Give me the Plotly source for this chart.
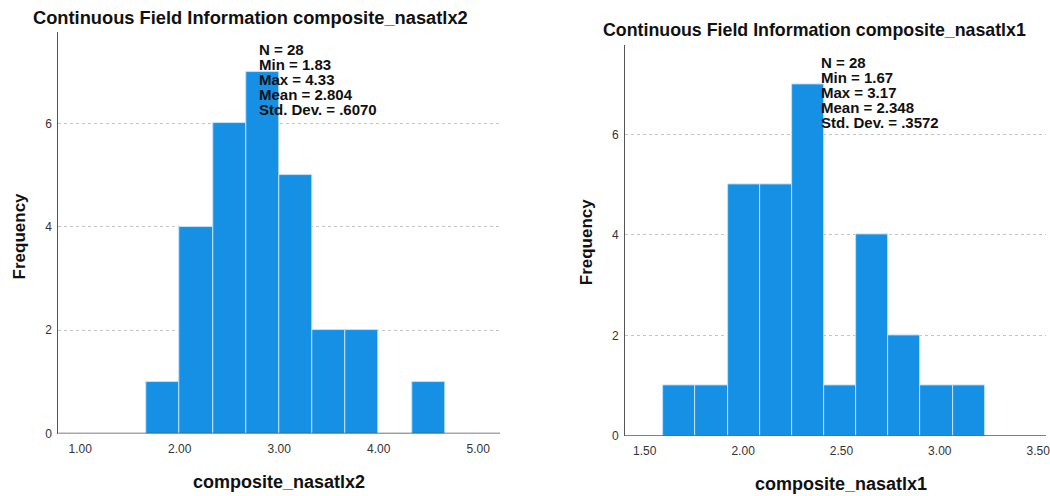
import plotly.graph_objects as go

# ---------------- data ----------------
left_var = "composite_nasatlx2"
left_bin_start = 1.6667
left_bin_width = 0.3333
left_counts = [1, 4, 6, 7, 5, 2, 2, 0, 1]
left_stats = ["N = 28", "Min = 1.83", "Max = 4.33", "Mean = 2.804", "Std. Dev. = .6070"]
left_xticks = [1.0, 2.0, 3.0, 4.0, 5.0]
left_xticklabels = ["1.00", "2.00", "3.00", "4.00", "5.00"]

right_var = "composite_nasatlx1"
right_bin_start = 1.595
right_bin_width = 0.1634
right_counts = [1, 1, 5, 5, 7, 1, 4, 2, 1, 1]
right_stats = ["N = 28", "Min = 1.67", "Max = 3.17", "Mean = 2.348", "Std. Dev. = .3572"]
right_xticks = [1.5, 2.0, 2.5, 3.0, 3.5]
right_xticklabels = ["1.50", "2.00", "2.50", "3.00", "3.50"]

y_ticks = [0, 2, 4, 6]

# ---------------- styling ----------------
W, H = 1050, 496
H_MAP = 488  # vertical mapping used for layout fractions
BAR = "#1590e4"
EDGE = "#bfe2f8"
FONT = "Liberation Sans, Arial, sans-serif"
TXT = "#111111"
TICK = "#333333"


def py(px):
    return 1 - px / H_MAP


def px_x(px):
    return px / W


left_edges = [left_bin_start + i * left_bin_width for i in range(len(left_counts))]
right_edges = [right_bin_start + i * right_bin_width for i in range(len(right_counts))]

fig = go.Figure()
fig.add_trace(go.Bar(x=left_edges, y=left_counts, width=left_bin_width, offset=0,
                     marker=dict(color=BAR, line=dict(color=EDGE, width=1)),
                     xaxis="x", yaxis="y", showlegend=False))
fig.add_trace(go.Bar(x=right_edges, y=right_counts, width=right_bin_width, offset=0,
                     marker=dict(color=BAR, line=dict(color=EDGE, width=1)),
                     xaxis="x2", yaxis="y2", showlegend=False))

L_left, L_right, L_top, L_bot = 58.5, 502, 32, 432.7
R_left, R_right, R_top, R_bot = 627.5, 1050, 45.3, 435

common_x = dict(showgrid=False, zeroline=False, showline=False, ticks="",
                tickfont=dict(family=FONT, size=12, color=TICK), ticklabelstandoff=6,
                ticklabeloverflow="allow", fixedrange=True)
common_y = dict(showgrid=True, gridcolor="#c4c4c4", griddash="3px,3px", gridwidth=1,
                zeroline=False, showline=True, linecolor="#555555", linewidth=1,
                ticks="", tickvals=y_ticks, tickfont=dict(family=FONT, size=12, color=TICK),
                ticklabelstandoff=3, range=[0, 7.77], fixedrange=True)

fig.update_layout(
    width=W, height=H, margin=dict(l=0, r=0, t=0, b=0),
    paper_bgcolor="white", plot_bgcolor="white", bargap=0,
    xaxis=dict(domain=[px_x(L_left), px_x(L_right)], range=[0.78, 5.22],
               tickvals=left_xticks, ticktext=left_xticklabels, anchor="y", **common_x),
    yaxis=dict(domain=[py(L_bot), py(L_top)], anchor="x", **common_y),
    xaxis2=dict(domain=[px_x(R_left), px_x(R_right)], range=[1.40, 3.54],
                tickvals=right_xticks, ticktext=right_xticklabels, anchor="y2", **common_x),
    yaxis2=dict(domain=[py(R_bot), py(R_top)], anchor="x2", **common_y),
)

# baseline (x axis line) drawn on top of bars
for xr, yr in (("x domain", "y"), ("x2 domain", "y2")):
    fig.add_shape(type="line", xref=xr, yref=yr, x0=0, x1=1, y0=0, y1=0,
                  line=dict(color="#555555", width=1.5), layer="above")

ann = []
# titles
ann.append(dict(text="<b>Continuous Field Information " + left_var + "</b>", x=px_x(251.5), y=py(17),
                font=dict(family=FONT, size=18.3, color=TXT)))
ann.append(dict(text="<b>Continuous Field Information " + right_var + "</b>", x=px_x(818), y=py(30),
                font=dict(family=FONT, size=17.8, color=TXT)))
# x-axis titles
ann.append(dict(text="<b>" + left_var + "</b>", x=px_x(280), y=py(481),
                font=dict(family=FONT, size=18, color=TXT)))
ann.append(dict(text="<b>" + right_var + "</b>", x=px_x(844), y=py(483),
                font=dict(family=FONT, size=18, color=TXT)))
# y-axis titles
ann.append(dict(text="<b>Frequency</b>", x=px_x(20), y=py(235), textangle=-90,
                font=dict(family=FONT, size=17, color=TXT)))
ann.append(dict(text="<b>Frequency</b>", x=px_x(589), y=py(241), textangle=-90,
                font=dict(family=FONT, size=17, color=TXT)))
for a in ann:
    a.update(xref="paper", yref="paper", showarrow=False, xanchor="center", yanchor="middle")

# stats boxes
for stats, x0, y0 in ((left_stats, 258, 49), (right_stats, 822.5, 62.3)):
    for i, s in enumerate(stats):
        ann.append(dict(text="<b>" + s + "</b>", x=px_x(x0), y=py(y0 + i * 15),
                        xref="paper", yref="paper", showarrow=False,
                        xanchor="left", yanchor="middle",
                        font=dict(family=FONT, size=15, color=TXT)))

fig.update_layout(annotations=ann)
fig.write_html("out.html", config={"displayModeBar": False},
               post_script="document.body.style.margin='0';document.body.style.overflow='hidden';")
